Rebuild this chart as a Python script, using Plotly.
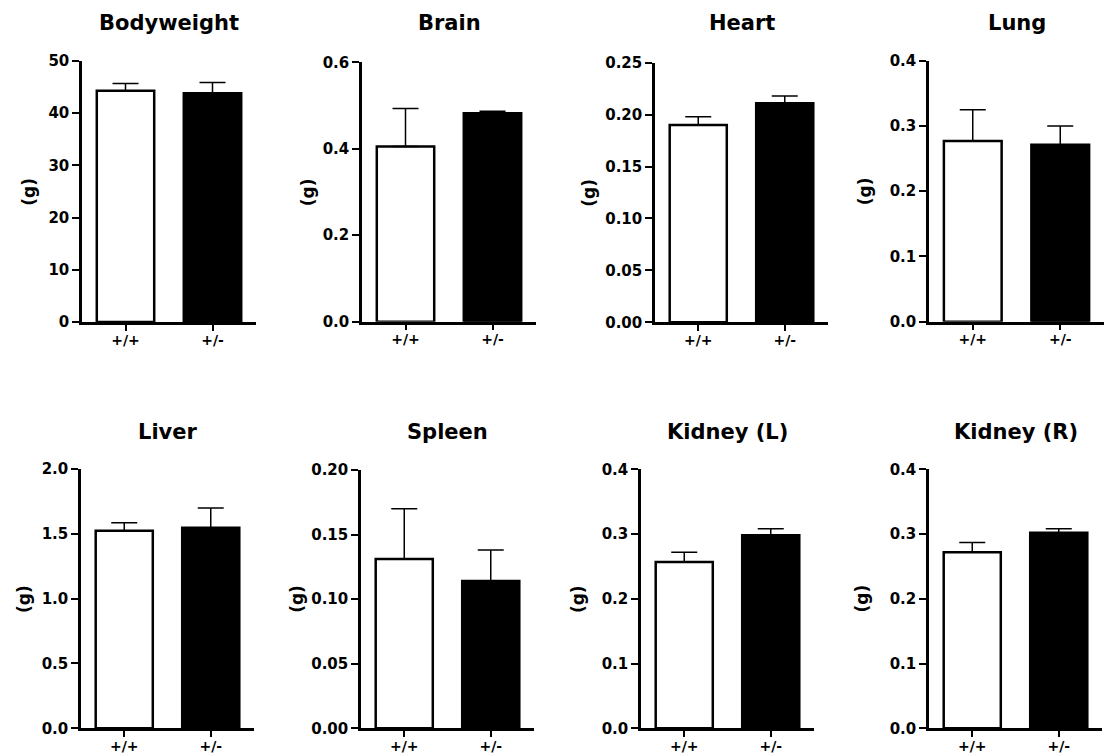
import plotly.graph_objects as go

# ---- data ----
panels = ["Bodyweight", "Brain", "Heart", "Lung", "Liver", "Spleen", "Kidney (L)", "Kidney (R)"]
genotypes = ["+/+", "+/-"]
wt_mean = [44.3, 0.405, 0.190, 0.277, 1.524, 0.131, 0.257, 0.272]
wt_sem = [1.4, 0.088, 0.008, 0.048, 0.062, 0.039, 0.015, 0.015]
het_mean = [43.8, 0.482, 0.211, 0.271, 1.547, 0.114, 0.298, 0.302]
het_sem = [2.1, 0.005, 0.007, 0.029, 0.153, 0.024, 0.010, 0.006]
y_max = [50, 0.6, 0.25, 0.4, 2.0, 0.20, 0.4, 0.4]
y_dtick = [10, 0.2, 0.05, 0.1, 0.5, 0.05, 0.1, 0.1]
y_format = ["d", ".1f", ".2f", ".1f", ".1f", ".2f", ".1f", ".1f"]
unit_label = "(g)"

# ---- layout (pixel geometry) ----
W, H = 1111, 756
x_px = [(82, 256), (362, 536), (655, 828), (929, 1104),
        (81, 254), (361, 534), (641, 814), (929, 1102)]
y_px = [(61, 322), (62.3, 321.7), (62.7, 322.3), (60.7, 321.7),
        (469, 728.3), (470, 728.3), (469.3, 728.3), (469.3, 728.3)]
g_x = [28.3, 308.3, 588.3, 865, 23.3, 296.7, 577.3, 861.7]
title_y = [23, 23, 23, 23, 432, 432, 432, 432]

FONT = "DejaVu Sans"

fig = go.Figure()
annotations = []
for i in range(8):
    ax = "" if i == 0 else str(i + 1)
    fig.add_trace(go.Bar(
        x=genotypes, y=[wt_mean[i], het_mean[i]],
        xaxis="x" + ax, yaxis="y" + ax,
        width=0.66,
        marker=dict(color=["white", "black"], line=dict(color="black", width=2.5)),
        error_y=dict(type="data", symmetric=False,
                     array=[wt_sem[i], het_sem[i]], arrayminus=[0, 0],
                     color="black", thickness=1.5, width=13),
        showlegend=False, hoverinfo="x+y",
    ))
    x0, x1 = x_px[i]
    y0, y1 = y_px[i]
    fig.layout["xaxis" + ax] = dict(
        domain=[x0 / W, x1 / W], anchor="y" + ax, type="category",
        range=[-0.5, 1.5], showline=True, linecolor="black", linewidth=2.5,
        ticks="outside", ticklen=6, tickwidth=2, tickcolor="black",
        ticklabelstandoff=-3,
        tickfont=dict(family=FONT, size=14, color="black", weight="bold"),
        showgrid=False, zeroline=False, automargin=False,
    )
    fig.layout["yaxis" + ax] = dict(
        domain=[1 - y1 / H, 1 - y0 / H], anchor="x" + ax,
        range=[0, y_max[i]], tick0=0, dtick=y_dtick[i], tickformat=y_format[i],
        showline=True, linecolor="black", linewidth=2.5,
        ticks="outside", ticklen=7, tickwidth=2, tickcolor="black",
        tickfont=dict(family=FONT, size=15, color="black", weight="bold"),
        showgrid=False, zeroline=False, automargin=False,
    )
    annotations.append(dict(
        text=panels[i], xref="paper", yref="paper",
        x=(x0 + x1) / 2 / W, y=1 - title_y[i] / H,
        xanchor="center", yanchor="middle", showarrow=False,
        font=dict(family=FONT, size=21, color="black", weight="bold"),
    ))
    annotations.append(dict(
        text=unit_label, xref="paper", yref="paper",
        x=g_x[i] / W, y=1 - (y0 + y1) / 2 / H, textangle=-90,
        xanchor="center", yanchor="middle", showarrow=False,
        font=dict(family=FONT, size=17, color="black", weight="bold"),
    ))

fig.update_layout(
    width=W, height=H,
    margin=dict(l=0, r=0, t=0, b=0, autoexpand=False),
    paper_bgcolor="white", plot_bgcolor="white",
    font=dict(family=FONT, color="black", weight="bold"),
    annotations=annotations,
)

fig.write_html("out.html",
               config={"displayModeBar": False},
               post_script="document.body.style.margin='0';document.body.style.overflow='hidden';")
